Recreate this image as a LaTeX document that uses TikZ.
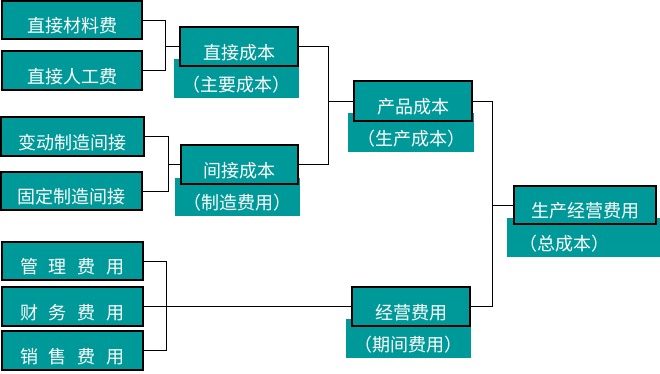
\documentclass[tikz,border=0pt]{standalone}
\usepackage{fontspec}
\newfontfamily\cjk{Noto Sans CJK SC}
\definecolor{tealbox}{RGB}{0,153,153}
\newcommand\boxfont{\cjk\fontsize{18pt}{20pt}\selectfont\spaceskip 11pt\relax}
\begin{document}
\begin{tikzpicture}[x=1pt,y=-1pt,
  base/.style={font=\boxfont, text=white, fill=tealbox, inner sep=0pt, text height=25.7pt, text depth=0pt},
  mainbox/.style={base, draw=black, line width=1.2pt},
  subbox/.style={base},
  conn/.style={draw=black, line width=1pt}]
\useasboundingbox (0,0) rectangle (660,373);
% sub boxes first
\node[subbox, minimum width=125pt, minimum height=39pt] (zycb) at (236.5,78.5) {（主要成本）};
\node[subbox, minimum width=125pt, minimum height=38pt] (zzfy) at (237.5,197) {（制造费用）};
\node[subbox, minimum width=126pt, minimum height=39pt] (sccb) at (411,132.5) {（生产成本）};
\node[subbox, minimum height=39pt, text width=129pt, inner xsep=12pt, align=left] (zcb) at (583.5,237.5) {（总成本）};
\node[subbox, minimum width=125pt, minimum height=39pt] (qjfy) at (408.5,338.5) {（期间费用）};
% main boxes
\node[mainbox, minimum width=140pt, minimum height=38pt] (zjcl) at (72,20) {直接材料费};
\node[mainbox, minimum width=140pt, minimum height=39pt] (zjrg) at (72,70.5) {直接人工费};
\node[mainbox, minimum width=118pt, minimum height=39pt] (zjcb) at (239,46.5) {直接成本};
\node[mainbox, minimum width=143pt, minimum height=39pt] (bdzz) at (72.5,136.5) {变动制造间接};
\node[mainbox, minimum width=141pt, minimum height=38pt] (gdzz) at (71.5,191) {固定制造间接};
\node[mainbox, minimum width=117pt, minimum height=39pt] (jjcb) at (239.5,164.5) {间接成本};
\node[mainbox, minimum width=118pt, minimum height=40pt] (cpcb) at (413,101) {产品成本};
\node[mainbox, minimum width=142pt, minimum height=38pt] (scjy) at (585,205) {生产经营费用};
\node[mainbox, minimum width=141pt, minimum height=38pt] (glfy) at (72.5,261) {管 理 费 用};
\node[mainbox, minimum width=141pt, minimum height=39pt] (cwfy) at (72.5,306.5) {财 务 费 用};
\node[mainbox, minimum width=141pt, minimum height=39pt] (xsfy) at (72.5,350.5) {销 售 费 用};
\node[mainbox, minimum width=118pt, minimum height=39pt] (jyfy) at (411,306.5) {经营费用};
% connectors
\draw[conn] (zjcl.east) -- ++(23,0) coordinate (j1) |- (zjrg.east);
\draw[conn] (j1 |- zjcb.west) -- (zjcb.west);
\draw[conn] (bdzz.east) -- ++(24,0) coordinate (j2) |- (gdzz.east);
\draw[conn] (j2 |- jjcb.west) -- (jjcb.west);
\draw[conn] (zjcb.east) -- ++(30,0) coordinate (j3) |- (jjcb.east);
\draw[conn] (j3 |- cpcb.west) -- (cpcb.west);
\draw[conn] (cpcb.east) -- ++(20,0) coordinate (j4) |- (jyfy.east);
\draw[conn] (j4 |- scjy.west) -- (scjy.west);
\draw[conn] (glfy.east) -- ++(23,0) coordinate (j5) |- (xsfy.east);
\draw[conn] (cwfy.east) -- (jyfy.west);
\end{tikzpicture}
\end{document}
